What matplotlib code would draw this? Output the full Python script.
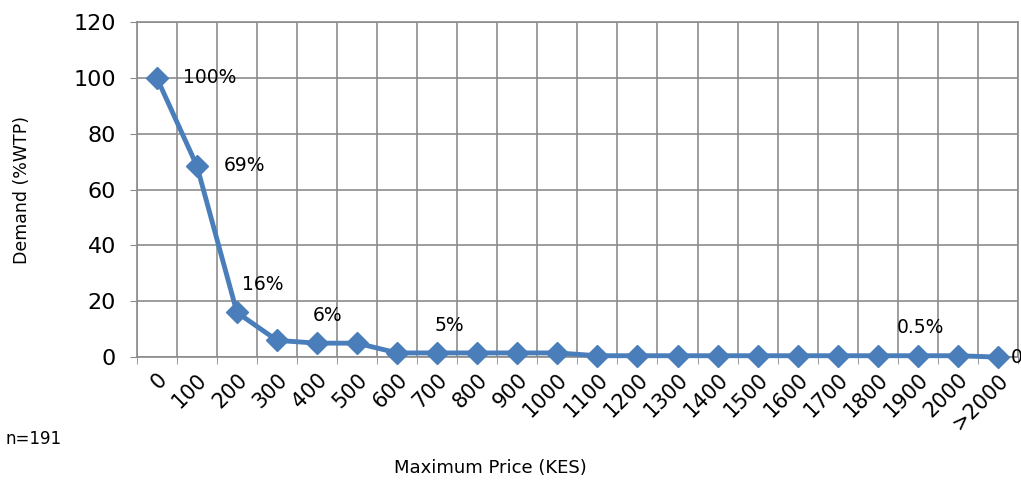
import numpy as np
import matplotlib.pyplot as plt

prices = ["0", "100", "200", "300", "400", "500", "600", "700", "800", "900", "1000",
          "1100", "1200", "1300", "1400", "1500", "1600", "1700", "1800", "1900", "2000", ">2000"]
demand = [100, 68.5, 16, 6, 5, 5, 1.5, 1.5, 1.5, 1.5, 1.5,
          0.5, 0.5, 0.5, 0.5, 0.5, 0.5, 0.5, 0.5, 0.5, 0.5, 0]
# labels shown on a few points: (index, text, x offset pt, y offset pt)
labels = [(0, "100%", 19, 0), (1, "69%", 19, 0),
          (2, "16%", 4, 20), (4, "6%", -3, 20),
          (7, "5%", -2, 20), (19, "0.5%", -15, 20),
          (21, "0", 9, 0)]

blue = "#4a7ebb"
grey = "#8c8c8c"

fig = plt.figure(figsize=(10.21, 4.8), dpi=100)
ax = fig.add_axes([0.134, 0.256, 0.863, 0.698])

x = np.arange(len(prices))
ax.plot(x, demand, color=blue, lw=3.5, marker="D", ms=11, zorder=3, clip_on=False)

for i, txt, dx, dy in labels:
    ax.annotate(txt, (x[i], demand[i]), xytext=(dx, dy), textcoords="offset points",
                ha="left", va="center", fontsize=13.5, color="black")

ax.set_xlim(-0.5, len(prices) - 0.5)
ax.set_ylim(0, 120)
ax.set_yticks(range(0, 121, 20))
ax.set_xticks(x)
ax.set_xticklabels(prices, rotation=45, ha="right", rotation_mode="anchor", fontsize=15)
ax.set_xticks(np.arange(-0.5, len(prices), 1), minor=True)
ax.tick_params(axis="x", which="major", length=0, pad=9)
ax.tick_params(axis="x", which="minor", length=5, color=grey, direction="out")
ax.tick_params(axis="y", labelsize=16, length=5, color=grey, direction="out", pad=10)
ax.grid(True, axis="y", color=grey, lw=1.2)
ax.grid(True, axis="x", which="minor", color=grey, lw=1.2)
ax.set_axisbelow(True)
for s in ax.spines.values():
    s.set_color(grey)
    s.set_linewidth(1.2)

ax.set_ylabel("Demand (%WTP)", fontsize=12.5)
ax.yaxis.set_label_coords(-0.12, 0.5)
fig.text(0.48, 0.025, "Maximum Price (KES)", fontsize=13, ha="center", va="center")
fig.text(0.005, 0.085, "n=191", fontsize=12, ha="left", va="center")

fig.savefig("out.png", dpi=100)
